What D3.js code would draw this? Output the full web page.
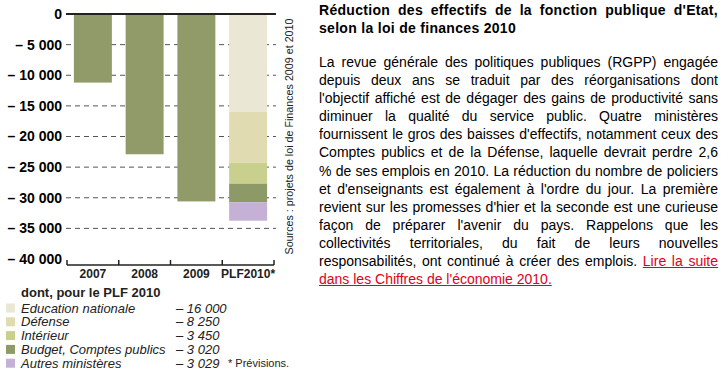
<!DOCTYPE html>
<html>
<head>
<meta charset="utf-8">
<script src="https://cdn.jsdelivr.net/npm/d3@7"></script>
<style>
  body { margin: 0; background: #fff; width: 722px; height: 375px; overflow: hidden; position: relative; }
  #chart { position: absolute; left: 0; top: 0; }
  .txt { position: absolute; left: 319px; width: 399px; font-family: "Liberation Sans", Arial, sans-serif; font-size: 14px; color: #000; }
  .line { height: 18.1px; line-height: 18.1px; white-space: nowrap; text-align: justify; text-align-last: justify; }
  .last { text-align-last: left; }
  a { color: #e0001b; }
</style>
</head>
<body>
<div id="chart"></div>
<div id="title" class="txt" style="top:1px;font-weight:bold;letter-spacing:0.3px;"></div>
<div id="para" class="txt" style="top:53px;"></div>
<script>
const years = ["2007", "2008", "2009", "PLF2010*"];
const totals = [-11200, -22900, -30600, null];
const ministries = ["Education nationale", "Défense", "Intérieur", "Budget, Comptes publics", "Autres ministères"];
const cuts = [16000, 8250, 3450, 3020, 3029];
const cutLabels = ["– 16 000", "– 8 250", "– 3 450", "– 3 020", "– 3 029"];
const yTicks = [0, -5000, -10000, -15000, -20000, -25000, -30000, -35000, -40000];
const colors = ["#eae8d4", "#e1dbb1", "#c9d08e", "#8d9966", "#c5b1d6"];
const barColor = "#909b69";

const titleLines = ["Réduction des effectifs de la fonction publique d'Etat,", "selon la loi de finances 2010"];
const paraLines = [
  "La revue générale des politiques publiques (RGPP) engagée",
  "depuis deux ans se traduit par des réorganisations dont",
  "l'objectif affiché est de dégager des gains de productivité sans",
  "diminuer la qualité du service public. Quatre ministères",
  "fournissent le gros des baisses d'effectifs, notamment ceux des",
  "Comptes publics et de la Défense, laquelle devrait perdre 2,6",
  "% de ses emplois en 2010. La réduction du nombre de policiers",
  "et d'enseignants est également à l'ordre du jour. La première",
  "revient sur les promesses d'hier et la seconde est une curieuse",
  "façon de préparer l'avenir du pays. Rappelons que les",
  "collectivités territoriales, du fait de leurs nouvelles",
  "responsabilités, ont continué à créer des emplois. <a href='#'>Lire la suite</a>",
  "<a href='#'>dans les Chiffres de l'économie 2010.</a>"
];

const svg = d3.select("#chart").append("svg").attr("width", 310).attr("height", 375);
const font = "'Liberation Sans', Arial, sans-serif";

const x = d3.scaleBand().domain(years).range([67, 274]).paddingInner(0.266).paddingOuter(0.133);
const y = d3.scaleLinear().domain([0, -40000]).range([14, 259]);

// dashed grid
svg.append("g").selectAll("line")
  .data(yTicks.filter(d => d < 0 && d > -40000))
  .enter().append("line")
  .attr("x1", 66).attr("x2", 276)
  .attr("y1", d => y(d)).attr("y2", d => y(d))
  .attr("stroke", "#555").attr("stroke-width", 1).attr("stroke-dasharray", "5,4");

// y labels
svg.append("g").selectAll("text")
  .data(yTicks).enter().append("text")
  .attr("x", 62).attr("y", d => y(d)).attr("dy", "0.35em")
  .attr("text-anchor", "end")
  .style("font-family", font).style("font-weight", "bold").style("font-size", "14px")
  .text(d => d === 0 ? "0" : "– " + d3.format(",")(-d).replace(/,/g, " "));

// simple bars
svg.append("g").selectAll("rect")
  .data(years.slice(0, 3).map((yr, i) => ({ yr, v: totals[i] })))
  .enter().append("rect")
  .attr("x", d => x(d.yr)).attr("width", x.bandwidth())
  .attr("y", y(0)).attr("height", d => y(d.v) - y(0))
  .attr("fill", barColor);

// stacked PLF2010
const row = {};
ministries.forEach((m, i) => { row[m] = cuts[i]; });
const stacked = d3.stack().keys(ministries)([row]);
svg.append("g").selectAll("rect")
  .data(stacked).enter().append("rect")
  .attr("x", x(years[3])).attr("width", x.bandwidth())
  .attr("y", d => y(-d[0][0])).attr("height", d => y(-d[0][1]) - y(-d[0][0]))
  .attr("fill", (d, i) => colors[i]);

// zero line
svg.append("line").attr("x1", 66).attr("x2", 276).attr("y1", y(0)).attr("y2", y(0))
  .attr("stroke", "#222").attr("stroke-width", 2);

// bottom axis
const axisY = 265;
const xAxis = svg.append("g").attr("transform", `translate(0,${axisY})`)
  .call(d3.axisBottom(x).tickSize(0).tickPadding(4));
xAxis.select(".domain").remove();
xAxis.selectAll("text").style("font-family", font).style("font-weight", "bold").style("font-size", "12px").attr("fill", "#222");
svg.append("line").attr("x1", 67).attr("x2", 274).attr("y1", axisY).attr("y2", axisY).attr("stroke", "#222").attr("stroke-width", 1.5);
const bounds = years.map(d => x(d) - x.step() * x.paddingInner() / 2).concat([274]);
bounds[0] = 67;
svg.append("g").selectAll("line").data(bounds).enter().append("line")
  .attr("x1", d => d).attr("x2", d => d).attr("y1", axisY).attr("y2", axisY - 5)
  .attr("stroke", "#222").attr("stroke-width", 1.5);

// sources
svg.append("text")
  .attr("transform", `translate(293,${y(-20000)}) rotate(-90)`)
  .attr("text-anchor", "middle")
  .attr("textLength", 236).attr("lengthAdjust", "spacingAndGlyphs")
  .style("font-family", font).style("font-size", "11px").attr("fill", "#222")
  .text("Sources : projets de loi de Finances 2009 et 2010");

// legend
const leg = svg.append("g");
leg.append("text").attr("x", 21).attr("y", 297)
  .style("font-family", font).style("font-weight", "bold").style("font-size", "13px").attr("fill", "#222")
  .text("dont, pour le PLF 2010");
const items = leg.selectAll("g.item").data(ministries).enter().append("g")
  .attr("transform", (d, i) => `translate(0,${308 + i * 13.8})`);
items.append("rect").attr("x", 6).attr("y", -4.5).attr("width", 9).attr("height", 9)
  .attr("fill", (d, i) => colors[i]);
items.append("text").attr("x", 21).attr("dy", "0.35em")
  .style("font-family", font).style("font-style", "italic").style("font-size", "13px").attr("fill", "#222")
  .text(d => d);
items.append("text").attr("x", 176).attr("dy", "0.35em")
  .style("font-family", font).style("font-style", "italic").style("font-size", "13px").attr("fill", "#222")
  .text((d, i) => cutLabels[i]);
leg.append("text").attr("x", 228).attr("y", 308 + 4 * 13.8).attr("dy", "0.35em")
  .style("font-family", font).style("font-size", "11px").attr("fill", "#222")
  .text("* Prévisions.");

// right text
d3.select("#title").selectAll("div").data(titleLines).enter().append("div")
  .attr("class", (d, i) => i === titleLines.length - 1 ? "line last" : "line")
  .style("height", "18px").style("line-height", "18px")
  .text(d => d);
d3.select("#para").selectAll("div").data(paraLines).enter().append("div")
  .attr("class", (d, i) => i === paraLines.length - 1 ? "line last" : "line")
  .html(d => d);
</script>
</body>
</html>
